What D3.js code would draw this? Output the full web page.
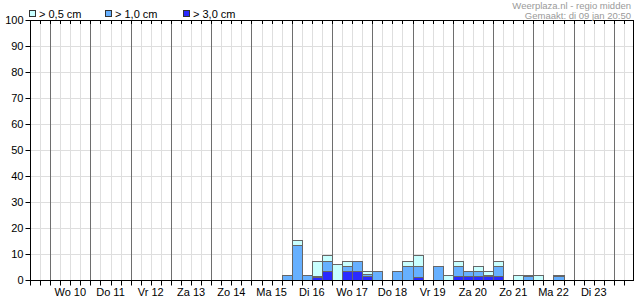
<!DOCTYPE html>
<html>
<head>
<meta charset="utf-8">
<script src="https://cdn.jsdelivr.net/npm/d3@7/dist/d3.min.js"></script>
<style>
    body { margin: 0; background: #fff; }
    svg { display: block; font-family: "Liberation Sans", Arial, sans-serif; }
</style>
</head>
<body>
<div id="chartPanel"></div>
<script>
// 6-hour slots with a chance of snow (percent), per threshold
const slotTimes = [
    "2024-01-15T18:00", "2024-01-16T00:00", "2024-01-16T06:00", "2024-01-16T12:00",
    "2024-01-16T18:00", "2024-01-17T00:00", "2024-01-17T06:00", "2024-01-17T12:00",
    "2024-01-17T18:00", "2024-01-18T00:00", "2024-01-18T12:00", "2024-01-18T18:00",
    "2024-01-19T00:00", "2024-01-19T12:00", "2024-01-19T18:00", "2024-01-20T00:00",
    "2024-01-20T06:00", "2024-01-20T12:00", "2024-01-20T18:00", "2024-01-21T00:00",
    "2024-01-21T12:00", "2024-01-21T18:00", "2024-01-22T00:00", "2024-01-22T12:00"
];
const over05 = [2, 15.5, 2, 7.5, 9.5, 6, 7.5, 7.5, 3.5, 3.5, 3.5, 7.5, 9.5, 5.5, 2, 7.5, 3.5, 5.5, 3.5, 7.5, 2, 2, 2, 2];
const over10 = [2, 13.5, 2, 1.5, 7.5, 0, 5.5, 7.5, 2.5, 3.5, 3.5, 5.5, 5.5, 5.5, 0, 5.5, 3.5, 3.5, 2, 5.5, 0, 1.5, 0, 1.5];
const over30 = [0, 0, 0, 1, 3.5, 0, 3.5, 3.5, 1.5, 0, 0, 0, 1.2, 0, 0, 1.5, 1.5, 1.5, 1.5, 1.5, 0, 0, 0, 0];

const seriesNames = ["> 0,5 cm", "> 1,0 cm", "> 3,0 cm"];
const seriesColors = ["#c8ffff", "#66b0ff", "#2a2aff"];
const dayLabels = ["Wo 10", "Do 11", "Vr 12", "Za 13", "Zo 14", "Ma 15", "Di 16", "Wo 17", "Do 18", "Vr 19", "Za 20", "Zo 21", "Ma 22", "Di 23"];
const yTicks = [0, 10, 20, 30, 40, 50, 60, 70, 80, 90, 100];
const titleLines = ["Weerplaza.nl - regio midden", "Gemaakt: di 09 jan 20:50"];

const width = 635, height = 300;
const plotLeft = 30, plotRight = 634, plotTop = 20, plotBottom = 280;

const parse = d3.utcParse("%Y-%m-%dT%H:%M");
const start = parse("2024-01-09T12:00");
const end = parse("2024-01-24T12:00");

const x = d3.scaleUtc().domain([start, end]).range([plotLeft, plotRight]);
const y = d3.scaleLinear().domain([0, 100]).range([plotBottom, plotTop]);

const svg = d3.select("#chartPanel")
    .append("svg")
    .attr("width", width)
    .attr("height", height);

const crisp = v => Math.round(v) + 0.5;
const sixHours = d3.utcHour.every(6).range(start, end);
const midnights = d3.utcDay.range(d3.utcHour.offset(start, 1), end);

// horizontal grid
svg.append("g").selectAll("line")
    .data(yTicks.filter(d => d > 0))
    .join("line")
    .attr("x1", plotLeft).attr("x2", plotRight)
    .attr("y1", d => crisp(y(d))).attr("y2", d => crisp(y(d)))
    .attr("stroke", "#dedede");

// vertical grid, light every 6 hours
svg.append("g").selectAll("line")
    .data(sixHours.filter(d => d > start))
    .join("line")
    .attr("x1", d => crisp(x(d))).attr("x2", d => crisp(x(d)))
    .attr("y1", plotTop).attr("y2", plotBottom)
    .attr("stroke", "#dedede");

// dark lines at midnight
svg.append("g").selectAll("line")
    .data(midnights)
    .join("line")
    .attr("x1", d => crisp(x(d))).attr("x2", d => crisp(x(d)))
    .attr("y1", plotTop).attr("y2", plotBottom)
    .attr("stroke", "#6e6e6e");

// bars: each threshold drawn over the previous one
const allSeries = [over05, over10, over30];
allSeries.forEach((values, s) => {
    svg.append("g").selectAll("rect")
        .data(slotTimes.map((t, i) => ({ t: parse(t), v: values[i] })).filter(d => d.v > 0))
        .join("rect")
        .attr("x", d => crisp(x(d.t)))
        .attr("y", d => crisp(y(d.v)))
        .attr("width", d => Math.round(x(d3.utcHour.offset(d.t, 6))) - Math.round(x(d.t)))
        .attr("height", d => Math.round(plotBottom) - Math.round(y(d.v)))
        .attr("fill", seriesColors[s])
        .attr("stroke", "#666");
});

// frame
svg.append("rect")
    .attr("x", plotLeft + 0.5).attr("y", plotTop + 0.5)
    .attr("width", plotRight - plotLeft - 1).attr("height", plotBottom - plotTop)
    .attr("fill", "none")
    .attr("stroke", "#000");

// y axis
const yAxis = svg.append("g")
    .attr("transform", `translate(${plotLeft + 0.5},0)`)
    .call(d3.axisLeft(y).tickValues(yTicks).tickSize(5).tickPadding(2));
yAxis.select(".domain").remove();
yAxis.selectAll(".tick line").attr("stroke", "#000");
yAxis.selectAll(".tick").attr("transform", d => `translate(0,${crisp(y(d))})`);
yAxis.selectAll("text").attr("font-size", 11).attr("fill", "#000");
yAxis.attr("font-family", null);

// x axis ticks every 6 hours
const xAxis = svg.append("g")
    .attr("transform", `translate(0,${plotBottom + 0.5})`)
    .call(d3.axisBottom(x).tickValues(sixHours).tickSize(5).tickFormat(""));
xAxis.select(".domain").remove();
xAxis.selectAll(".tick line").attr("stroke", "#000");
xAxis.selectAll(".tick").attr("transform", d => `translate(${crisp(x(d))},0)`);

// short ticks hanging from the top line
svg.append("g").selectAll("line")
    .data(sixHours.filter(d => d > start))
    .join("line")
    .attr("x1", d => crisp(x(d))).attr("x2", d => crisp(x(d)))
    .attr("y1", plotTop).attr("y2", plotTop + 4)
    .attr("stroke", "#000");

// day labels at noon
svg.append("g").selectAll("text")
    .data(midnights.slice(0, dayLabels.length))
    .join("text")
    .attr("x", d => x(d3.utcHour.offset(d, 12)))
    .attr("y", 296)
    .attr("text-anchor", "middle")
    .attr("font-size", 11)
    .text((d, i) => dayLabels[i]);

// legend
const legendX = [29, 105, 183];
const legend = svg.append("g").selectAll("g")
    .data(seriesNames)
    .join("g")
    .attr("transform", (d, i) => `translate(${legendX[i]},0)`);
legend.append("rect")
    .attr("x", 0.5).attr("y", 10.5)
    .attr("width", 6).attr("height", 6)
    .attr("fill", (d, i) => seriesColors[i])
    .attr("stroke", "#333");
legend.append("text")
    .attr("x", 10).attr("y", 17.5)
    .attr("font-size", 11)
    .text(d => d);

// source / timestamp, top right
svg.append("g").selectAll("text")
    .data(titleLines)
    .join("text")
    .attr("x", 631)
    .attr("y", (d, i) => 8.5 + i * 10)
    .attr("text-anchor", "end")
    .attr("font-size", 9.5)
    .attr("fill", "#9a9a9a")
    .text(d => d);
</script>
</body>
</html>
